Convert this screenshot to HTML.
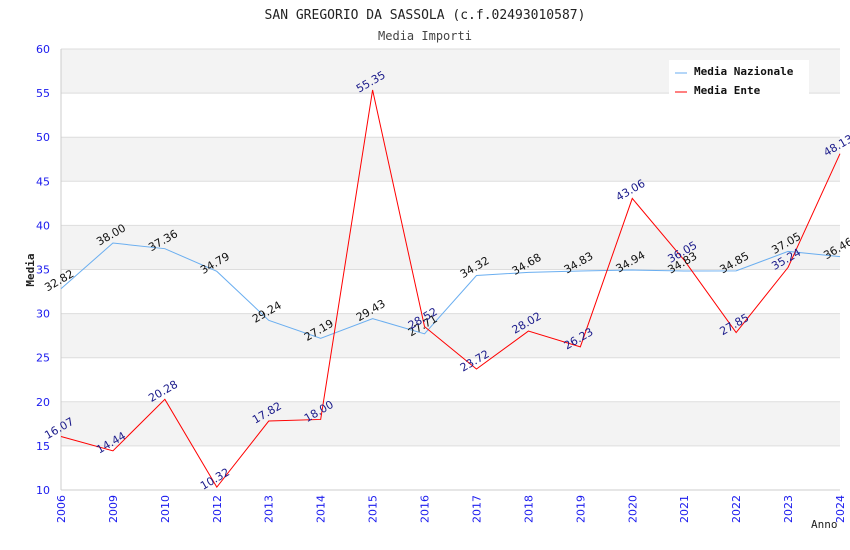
<!DOCTYPE html>
<html><head><meta charset="utf-8"><style>
body{margin:0;background:#fff;width:850px;height:550px;overflow:hidden}
svg{display:block}
</style></head><body>
<svg id="chart" width="850" height="550" font-family="DejaVu Sans, Liberation Sans, sans-serif">
<text x="425" y="19" text-anchor="middle" font-family="DejaVu Sans Mono, Liberation Mono, monospace" font-size="13" fill="#222">SAN GREGORIO DA SASSOLA (c.f.02493010587)</text>
<text x="425" y="40" text-anchor="middle" font-family="DejaVu Sans Mono, Liberation Mono, monospace" font-size="12" fill="#444">Media Importi</text>
<g id="grid"></g>
<g id="axes"></g>
<g id="series"></g>
<g id="labels"></g>
<text x="0" y="0" transform="translate(34,270) rotate(-90)" text-anchor="middle" font-family="DejaVu Sans Mono, monospace" font-size="11" font-weight="bold" fill="#222">Media</text>
<text x="811" y="528" font-family="DejaVu Sans Mono, monospace" font-size="11" fill="#222">Anno</text>
<g>
<rect x="669" y="60" width="140" height="36" fill="#fff"/>
<g><line x1="675" y1="73" x2="687" y2="73" stroke="#6aaef0"/><text x="694" y="75" font-family="DejaVu Sans Mono, monospace" font-size="11" font-weight="bold" fill="#111">Media Nazionale</text></g>
<g><line x1="675" y1="92" x2="687" y2="92" stroke="#ff0000"/><text x="694" y="94" font-family="DejaVu Sans Mono, monospace" font-size="11" font-weight="bold" fill="#111">Media Ente</text></g>
</g>
</svg>
<script>
const categories=["2006","2009","2010","2012","2013","2014","2015","2016","2017","2018","2019","2020","2021","2022","2023","2024"];
const nazionale=[32.82,38.00,37.36,34.79,29.24,27.19,29.43,27.71,34.32,34.68,34.83,34.94,34.83,34.85,37.05,36.46];
const ente=[16.07,14.44,20.28,10.32,17.82,18.00,55.35,28.52,23.72,28.02,26.23,43.06,36.05,27.85,35.24,48.13];
const yTicks=[10,15,20,25,30,35,40,45,50,55,60];
const NS="http://www.w3.org/2000/svg";
const L=61,R=840,T=49,B=490,yMin=10,yMax=60;
const x=i=>L+i*(R-L)/(categories.length-1);
const y=v=>B-(v-yMin)/(yMax-yMin)*(B-T);
function mk(tag,attrs,parent){const e=document.createElementNS(NS,tag);for(const k in attrs)e.setAttribute(k,attrs[k]);document.getElementById(parent).appendChild(e);return e;}
for(let i=0;i<yTicks.length-1;i++){
  if(i%2===1){const b=mk('rect',{x:L,y:y(yTicks[i+1]),width:R-L,height:y(yTicks[i])-y(yTicks[i+1]),fill:'#f3f3f3'},'grid');
  
  }
}
yTicks.forEach(v=>{
  const g=mk('line',{x1:L,x2:R,y1:y(v),y2:y(v),stroke:'#dddddd'},'grid');
  
  
  const t=mk('text',{x:50,y:y(v)+4,'text-anchor':'end','font-size':11,fill:'#1a1aee'},'axes');
  t.textContent=v;
  
  
});
mk('line',{x1:L,x2:L,y1:T,y2:B,stroke:'#ccc'},'axes');
mk('line',{x1:L,x2:R,y1:B,y2:B,stroke:'#ccc'},'axes');
categories.forEach((c,i)=>{
  const t=mk('text',{x:0,y:0,transform:`translate(${x(i)+4},${B+5}) rotate(-90)`,'text-anchor':'end','font-size':11,fill:'#1a1aee'},'axes');
  t.textContent=c;
  
  
});
function series(vals,color,lblColor,name){
  const p=mk('polyline',{points:vals.map((v,i)=>x(i)+','+y(v)).join(' '),fill:'none',stroke:color,'stroke-width':1},'series');
  
  
  vals.forEach((v,i)=>{
    const t=mk('text',{x:0,y:0,transform:`translate(${x(i)},${y(v)-5}) rotate(-30)`,'text-anchor':'middle','font-size':11,fill:lblColor},'labels');
    t.textContent=v.toFixed(2);
    
    
  });
}
series(nazionale,'#6aaef0','#111','nazionale');
series(ente,'#ff0000','#1a1a8a','ente');
</script>
</body></html>
